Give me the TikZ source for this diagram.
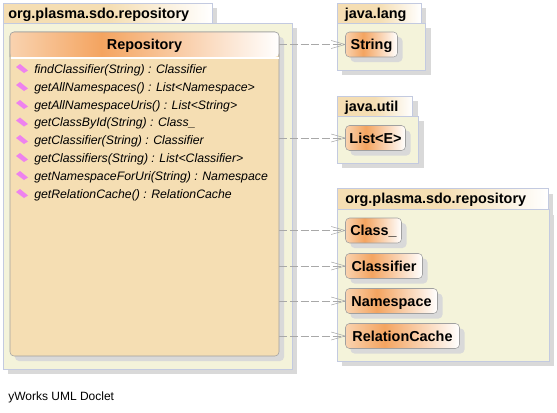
\documentclass[tikz,border=0pt]{standalone}
\usepackage{fontspec}
\setmainfont{Liberation Sans}
\usetikzlibrary{calc}
\definecolor{pkgfill}{HTML}{F4F3DA}
\definecolor{pkgline}{HTML}{C3CAE0}
\definecolor{classfill}{HTML}{F5DEB3}
\definecolor{shadowgrey}{HTML}{D9D9D9}
\definecolor{boxline}{HTML}{A0A0A0}
\definecolor{arrowgrey}{HTML}{A8A8A8}
\definecolor{iconpink}{HTML}{EE82EE}
\definecolor{headleft}{HTML}{F9D3B0}
\definecolor{headmid}{HTML}{F4A460}
\pgfdeclarehorizontalshading{classhead}{100bp}{color(0bp)=(headleft); color(25bp)=(headleft); color(42bp)=(headmid); color(75bp)=(white); color(100bp)=(white)}
\pgfdeclarehorizontalshading{tabhead}{100bp}{color(0bp)=(classfill); color(50bp)=(classfill); color(75bp)=(white); color(100bp)=(white)}
\tikzset{
	pkgbody/.style = {draw = pkgline, fill = pkgfill},
	pkgtab/.style = {draw = pkgline, shading = tabhead, shading angle = 0},
	shadowbox/.style = {fill = shadowgrey},
	classbox/.style = {draw = boxline, rounded corners = 3, shading = classhead, inner sep = 0, font = \bfseries\fontsize{10.8}{11}\selectfont, text height = 10.2pt, text depth = 2pt, minimum height = 18.75pt, minimum width = #1*0.75pt},
	pkgname/.style = {anchor = base west, inner sep = 0, font = \bfseries\fontsize{10.8}{11}\selectfont},
	method/.style = {anchor = base west, inner sep = 0, font = \itshape\fontsize{9.2}{10}\selectfont},
	icon/.style = {fill = iconpink},
	usearrow/.style = {draw = arrowgrey, dash pattern = on 6pt off 2pt},
	arrowtip/.style = {draw = arrowgrey}
}
\newcommand{\pkg}[8]{
	% left, top of tab, tab right, body top, body right, bottom, name x, name
	\fill[shadowbox] (#1+5,#2+5) rectangle (#3+5,#4+5);
	\fill[shadowbox] (#1+5,#4+5) rectangle (#5+5,#6+5);
	\draw[pkgtab] (#1,#2) rectangle (#3,#4);
	\draw[pkgbody] (#1,#4) rectangle (#5,#6);
	\node[pkgname] at (#7,#2+15) {#8};
}
\newcommand{\classat}[5]{
	% name, left, top, width, text
	\fill[shadowbox, rounded corners = 3] (#2+5,#3+5) rectangle (#2+#4+5,#3+30);
	\node[classbox = #4] (#1) at (#2+#4/2,#3+12.5) {#5};
}
\newcommand{\usearrow}[1]{
	\draw[usearrow] (Repository.east |- #1.west) -- (#1.west);
	\draw[arrowtip] ($(#1.west)+(-14,-4)$) -- (#1.west) -- ($(#1.west)+(-14,4)$);
}
\begin{document}
\begin{tikzpicture}[x = 0.75pt, y = -0.75pt]
	\useasboundingbox (0,0) rectangle (557,412);
	\pkg{3}{3}{212}{23}{292}{369}{8}{org.plasma.sdo.repository}
	\pkg{337}{3}{421}{23}{425.5}{70}{344.5}{java.lang}
	\pkg{337}{96}{412.5}{116}{418.5}{163}{344.5}{java.util}
	\pkg{337}{188.5}{548}{209.5}{549}{361}{345}{org.plasma.sdo.repository}

	% the big class
	\fill[shadowbox, rounded corners = 3] (15,37) rectangle (284,361);
	\draw[boxline, fill = classfill, rounded corners = 3] (10,32) rectangle (279,356);
	\node[classbox = 269, draw = none] (Repository) at (144.5,44.5) {Repository};
	\draw[boxline, rounded corners = 3] (10,57) -- (10,32) -- (279,32) -- (279,57);
	\draw[white, line width = 1.5pt] (10.5,58) -- (278.5,58);

	\foreach \y/\txt in {
		69/findClassifier(String) : Classifier,
		87/getAllNamespaces() : List<Namespace>,
		105/getAllNamespaceUris() : List<String>,
		122.5/getClassById(String) : Class\_,
		140/getClassifier(String) : Classifier,
		158/getClassifiers(String) : List<Classifier>,
		176/getNamespaceForUri(String) : Namespace,
		194/getRelationCache() : RelationCache
	}{
		\fill[icon] (16,\y-2) -- (20,\y-5) -- (28,\y+1.5) -- (24,\y+4) -- cycle;
		\node[method] at (34,\y+4) {\txt};
	}

	\classat{String}{345.5}{32}{52}{String}
	\classat{ListE}{345.5}{125.5}{60}{List<E>}
	\classat{ClassU}{345.5}{218}{56}{Class\_}
	\classat{Classifier}{345.5}{253.5}{77}{Classifier}
	\classat{Namespace}{345.5}{288.5}{92}{Namespace}
	\classat{RelationCache}{345.5}{323.5}{114}{RelationCache}

	\usearrow{String}
	\usearrow{ListE}
	\usearrow{ClassU}
	\usearrow{Classifier}
	\usearrow{Namespace}
	\usearrow{RelationCache}

	\node[anchor = base west, inner sep = 0, font = \fontsize{9}{10}\selectfont] (doclet) at (8,400) {yWorks UML Doclet};
\end{tikzpicture}
\end{document}
